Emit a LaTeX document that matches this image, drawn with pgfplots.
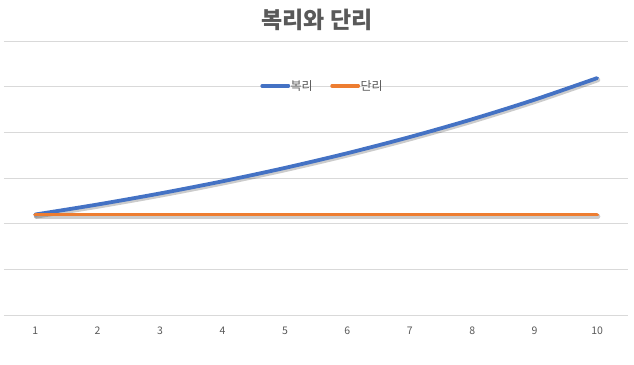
\documentclass[border=0pt]{standalone}
\usepackage{pgfplots}
\pgfplotsset{compat=1.18}
\usepackage{fontspec}
\setmainfont{Noto Sans CJK KR}
\definecolor{cblue}{HTML}{4472C4}
\definecolor{corange}{HTML}{ED7D31}
\definecolor{ctext}{HTML}{595959}
\definecolor{cgrid}{HTML}{D9D9D9}
\begin{document}
\begin{tikzpicture}[x=1pt,y=1pt]
\useasboundingbox (0,0) rectangle (634,364);
\begin{axis}[
  at={(4pt,49pt)}, anchor=south west,
  scale only axis, width=624.3pt, height=274pt,
  xmin=0.5, xmax=10.5, ymin=0, ymax=3000,
  xtick={1,...,10}, ytick distance=500,
  yticklabels={}, major tick length=0pt,
  ymajorgrids, grid style={cgrid, line width=0.9pt},
  axis line style={draw=none},
  /pgf/number format/assume math mode=true,
  xticklabel style={font=\fontsize{10.5}{12}\selectfont, text=ctext, yshift=-8pt},
  legend style={draw=none, fill=none, at={(0.509,0.836)}, anchor=center,
    font=\fontsize{12}{14}\selectfont, text=ctext,
    nodes={inner xsep=0.5pt},
    /tikz/every even column/.append style={column sep=17pt}},
  legend columns=2,
  legend cell align=left,
  legend image code/.code={\draw[#1, line width=3.3pt, line cap=round] (1.5pt,0pt) -- (28pt,0pt);},
]
\addplot[black, opacity=0.2, line width=4.5pt, line cap=round, smooth, xshift=1pt, yshift=-1.8pt, forget plot]
  coordinates {(1,1100) (2,1210) (3,1331) (4,1464.1) (5,1610.51) (6,1771.56) (7,1948.72) (8,2143.59) (9,2357.95) (10,2593.74)};
\addplot[black, opacity=0.2, line width=4.5pt, line cap=round, xshift=1pt, yshift=-1.8pt, forget plot]
  coordinates {(1,1100) (2,1100) (3,1100) (4,1100) (5,1100) (6,1100) (7,1100) (8,1100) (9,1100) (10,1100)};
\addplot[cblue, line width=3.8pt, line cap=round, smooth]
  coordinates {(1,1100) (2,1210) (3,1331) (4,1464.1) (5,1610.51) (6,1771.56) (7,1948.72) (8,2143.59) (9,2357.95) (10,2593.74)};
\addlegendentry{복리}
\addplot[corange, line width=3.8pt, line cap=round]
  coordinates {(1,1100) (2,1100) (3,1100) (4,1100) (5,1100) (6,1100) (7,1100) (8,1100) (9,1100) (10,1100)};
\addlegendentry{단리}
\end{axis}
\node[font=\fontsize{23}{26}\selectfont\bfseries, text=ctext] at (317,344) {복리와 단리};
\end{tikzpicture}
\end{document}
